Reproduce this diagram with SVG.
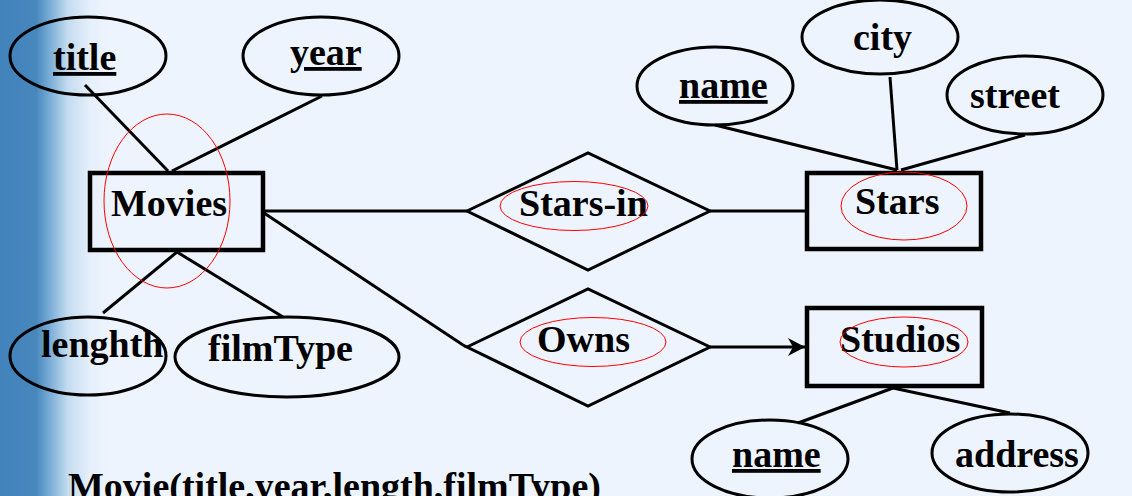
<svg xmlns="http://www.w3.org/2000/svg" width="1132" height="496" viewBox="0 0 1132 496">
  <defs>
    <linearGradient id="bg" x1="0" y1="0" x2="1132" y2="0" gradientUnits="userSpaceOnUse">
      <stop offset="0" stop-color="#4383bb"/>
      <stop offset="0.032" stop-color="#4787be"/>
      <stop offset="0.045" stop-color="#7eb0d8"/>
      <stop offset="0.06" stop-color="#c4dcef"/>
      <stop offset="0.08" stop-color="#e6f0fb"/>
      <stop offset="0.1" stop-color="#eef4fd"/>
      <stop offset="1" stop-color="#eef4fd"/>
    </linearGradient>
    <marker id="arrow" viewBox="0 0 20 20" refX="18" refY="10" markerWidth="20" markerHeight="20" markerUnits="userSpaceOnUse" orient="auto">
      <path d="M18,10 L1,1 L6,10 L1,19 Z" fill="#000"/>
    </marker>
  </defs>
  <style>
    .lbl { font-family: "Liberation Serif", "Times New Roman", serif; font-weight: bold; font-size: 38px; fill: #000; }
    .key { text-decoration: underline; }
    .attr { fill: none; stroke: #000; stroke-width: 3; }
    .ent { fill: none; stroke: #000; stroke-width: 4.5; }
    .rel { fill: none; stroke: #000; stroke-width: 3; stroke-linejoin: miter; }
    .conn { fill: none; stroke: #000; stroke-width: 3; }
    .mark { fill: none; stroke: #ff0000; stroke-width: 1; }
  </style>
  <rect x="0" y="0" width="1132" height="496" fill="url(#bg)"/>

  <g id="connectors">
    <line class="conn" x1="85" y1="85" x2="168" y2="171"/>
    <line class="conn" x1="322" y1="96" x2="172" y2="171"/>
    <line class="conn" x1="177" y1="252" x2="103" y2="313"/>
    <line class="conn" x1="177" y1="252" x2="283" y2="317"/>
    <line class="conn" x1="264" y1="211" x2="467" y2="211"/>
    <polyline class="conn" points="264,213 463,345 467,347"/>
    <line class="conn" x1="710" y1="211" x2="806" y2="211"/>
    <line class="conn" x1="710" y1="347" x2="805" y2="347" marker-end="url(#arrow)"/>
    <line class="conn" x1="715" y1="125" x2="897" y2="170"/>
    <line class="conn" x1="890" y1="77" x2="897" y2="170"/>
    <line class="conn" x1="1025" y1="135" x2="901" y2="170"/>
    <line class="conn" x1="893" y1="388" x2="798" y2="423"/>
    <line class="conn" x1="893" y1="388" x2="1010" y2="413"/>
  </g>

  <g id="title">
    <ellipse class="attr" cx="88" cy="56" rx="78" ry="39"/>
    <text class="lbl key" x="53" y="70">title</text>
  </g>
  <g id="year">
    <ellipse class="attr" cx="321" cy="56" rx="78" ry="39"/>
    <text class="lbl key" x="290" y="65">year</text>
  </g>
  <g id="movies">
    <rect class="ent" x="90" y="173" width="173" height="77"/>
    <text class="lbl" x="111" y="216">Movies</text>
    <ellipse class="mark" cx="167" cy="201" rx="63" ry="87"/>
  </g>
  <g id="lenghth">
    <ellipse class="attr" cx="88" cy="356" rx="78" ry="39"/>
    <text class="lbl" x="41" y="357">lenghth</text>
  </g>
  <g id="filmType">
    <ellipse class="attr" cx="287" cy="357" rx="112" ry="40"/>
    <text class="lbl" x="208" y="361">filmType</text>
  </g>
  <g id="stars-in">
    <polygon class="rel" points="467,211 588,153 710,211 588,270"/>
    <text class="lbl" x="519" y="216">Stars-in</text>
    <ellipse class="mark" cx="574" cy="206" rx="74" ry="24.5"/>
  </g>
  <g id="owns">
    <polygon class="rel" points="467,347 588,289 710,347 588,406"/>
    <text class="lbl" x="537" y="352">Owns</text>
    <ellipse class="mark" cx="593" cy="342" rx="73" ry="24.5"/>
  </g>
  <g id="stars">
    <rect class="ent" x="807" y="173" width="174" height="76"/>
    <text class="lbl" x="855" y="214">Stars</text>
    <ellipse class="mark" cx="904" cy="206" rx="63" ry="34"/>
  </g>
  <g id="star-name">
    <ellipse class="attr" cx="715" cy="86" rx="78" ry="39"/>
    <text class="lbl key" x="679" y="98">name</text>
  </g>
  <g id="city">
    <ellipse class="attr" cx="880" cy="37" rx="78" ry="37"/>
    <text class="lbl" x="853" y="50">city</text>
  </g>
  <g id="street">
    <ellipse class="attr" cx="1025" cy="95" rx="78" ry="39"/>
    <text class="lbl" x="970" y="108">street</text>
  </g>
  <g id="studios">
    <rect class="ent" x="807" y="308" width="175" height="78"/>
    <text class="lbl" x="840" y="352">Studios</text>
    <ellipse class="mark" cx="904" cy="342" rx="64" ry="25"/>
  </g>
  <g id="studio-name">
    <ellipse class="attr" cx="770" cy="459" rx="78" ry="39"/>
    <text class="lbl key" x="732" y="467">name</text>
  </g>
  <g id="address">
    <ellipse class="attr" cx="1010" cy="453" rx="78" ry="39"/>
    <text class="lbl" x="955" y="467">address</text>
  </g>
  <g id="schema">
    <text class="lbl" x="68" y="499">Movie(title,year,length,filmType)</text>
  </g>
</svg>
